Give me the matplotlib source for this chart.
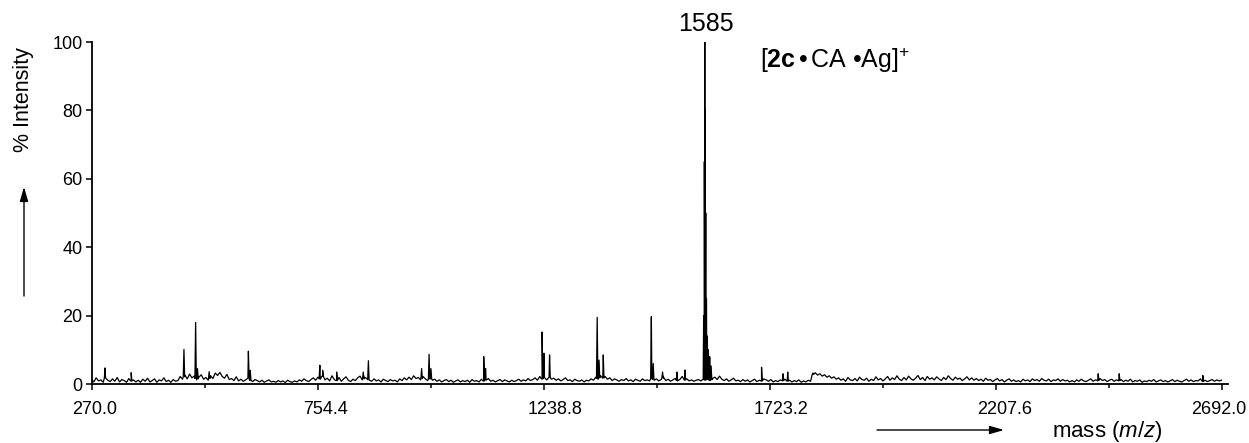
import numpy as np
import matplotlib
matplotlib.use("Agg")
from matplotlib import pyplot as plt
from matplotlib import transforms

plt.rcParams['font.family'] = ['Liberation Sans', 'DejaVu Sans']
plt.rcParams['mathtext.fontset'] = 'custom'
plt.rcParams['mathtext.rm'] = 'Liberation Sans'
plt.rcParams['mathtext.it'] = 'Liberation Sans:italic'
plt.rcParams['mathtext.bf'] = 'Liberation Sans:bold'

# baseline noise (% intensity), one value every 5 m/z starting at 270
baseline_start = 270
baseline_step = 5
baseline = [
    1.4, 0.6, 1.8, 0.9, 1.2, 0.5, 2.0, 1.1, 0.7, 1.5, 0.8, 1.9, 0.6, 1.3, 1.0, 0.5, 1.6, 0.9, 1.2, 0.6,
    1.1, 0.5, 1.4, 0.8, 1.7, 0.6, 1.0, 1.5, 0.5, 1.2, 0.9, 1.8, 0.7, 1.1, 0.5, 1.3, 0.8, 1.0, 2.2, 1.4,
    2.6, 1.5, 2.9, 1.8, 2.3, 1.2, 2.0, 2.7, 1.4, 1.9, 1.1, 2.4, 1.6, 3.2, 2.5, 3.4, 2.2, 1.7, 2.8, 1.3,
    1.6, 1.0, 2.1, 0.9, 1.4, 0.8, 1.2, 1.8, 1.1, 0.7, 1.3, 1.0, 0.6, 1.1, 0.5, 0.9, 1.2, 0.6, 0.8, 0.5,
    1.0, 0.6, 0.9, 0.4, 1.1, 0.7, 0.5, 0.9, 0.6, 1.2, 0.8, 1.5, 1.0, 0.7, 1.3, 1.8, 1.1, 2.0, 1.4, 2.3,
    1.2, 1.7, 0.9, 2.4, 1.3, 1.0, 1.9, 0.8, 1.5, 2.1, 1.1, 0.7, 1.4, 1.0, 1.8, 2.3, 1.2, 2.0, 1.5, 1.1,
    0.8, 1.5, 0.9, 1.2, 0.6, 1.4, 1.0, 0.7, 1.3, 0.9, 1.1, 0.6, 1.5, 1.0, 1.8, 1.2, 2.0, 1.3, 2.4, 1.6,
    1.9, 1.2, 2.2, 1.5, 1.0, 1.8, 1.1, 1.4, 0.8, 1.2, 0.6, 1.0, 1.3, 0.7, 1.1, 0.5, 0.9, 1.2, 0.6, 1.0,
    0.7, 1.1, 0.5, 1.3, 0.8, 1.0, 0.6, 1.4, 0.9, 1.2, 1.6, 0.8, 1.1, 0.6, 1.0, 1.3, 0.7, 1.2, 0.9, 0.6,
    1.1, 0.7, 1.0, 1.4, 0.8, 1.2, 0.9, 1.6, 1.0, 1.3, 1.8, 1.1, 2.2, 1.5, 1.9, 1.2, 2.0, 1.4, 1.7, 1.1,
    1.5, 0.9, 1.3, 1.8, 1.0, 1.2, 0.7, 1.4, 1.0, 0.8, 1.2, 0.6, 1.1, 0.9, 1.5, 1.1, 2.0, 1.4, 2.4, 1.7,
    2.2, 1.4, 1.8, 1.0, 1.5, 1.2, 0.8, 1.3, 1.0, 1.6, 0.9, 1.2, 0.7, 1.4, 1.1, 0.8, 1.5, 1.0, 1.2, 0.9,
    1.7, 1.1, 1.5, 0.9, 1.3, 2.0, 1.0, 1.4, 0.8, 1.2, 1.6, 0.9, 1.3, 2.2, 1.1, 1.5, 0.9, 1.2, 0.8, 1.1,
    1.3, 0.9, 1.4, 1.2, 1.5, 1.0, 1.6, 2.0, 1.3, 2.3, 1.4, 1.0, 1.5, 0.8, 1.2, 1.7, 0.9, 1.1, 0.7, 1.3,
    0.8, 1.2, 0.6, 1.0, 1.4, 0.7, 1.1, 0.9, 1.5, 1.2, 0.8, 1.3, 0.6, 1.0, 0.7, 1.2, 0.9, 1.4, 0.8, 1.1,
    0.6, 1.0, 0.7, 1.2, 0.5, 0.9, 0.6, 1.1, 0.8, 2.8, 3.3, 2.6, 3.0, 2.3, 2.7, 2.0, 2.4, 1.7, 2.1, 1.4,
    1.8, 1.1, 1.5, 0.8, 1.9, 1.2, 1.0, 1.6, 0.9, 2.0, 1.3, 1.1, 1.7, 0.8, 1.4, 1.0, 2.1, 1.2, 1.6, 0.9,
    1.5, 2.2, 1.1, 1.8, 1.3, 2.4, 1.4, 1.0, 1.9, 1.2, 2.3, 1.5, 1.1, 1.7, 2.5, 1.3, 1.9, 1.0, 2.2, 1.4,
    1.8, 1.2, 2.1, 1.5, 1.0, 1.9, 1.3, 2.4, 1.6, 1.1, 2.0, 1.4, 1.7, 1.0, 1.5, 2.1, 1.2, 1.8, 1.1, 1.6,
    1.0, 1.4, 0.8, 1.7, 1.1, 1.3, 0.7, 1.2, 1.6, 0.9, 1.3, 0.6, 1.1, 1.5, 0.8, 1.2, 0.7, 1.0, 0.6, 1.4,
    0.9, 1.2, 0.7, 1.5, 1.0, 1.3, 0.8, 1.6, 1.1, 0.9, 1.4, 0.7, 1.2, 1.0, 1.5, 0.8, 1.3, 0.9, 1.1, 0.6,
    1.0, 0.6, 1.2, 0.8, 1.4, 0.9, 0.7, 1.1, 1.5, 0.8, 1.2, 0.9, 1.6, 1.0, 1.3, 0.7, 1.1, 1.4, 0.8, 1.2,
    0.9, 1.3, 0.7, 1.1, 0.8, 1.4, 0.6, 1.0, 0.8, 1.2, 0.5, 0.9, 0.7, 1.1, 0.8, 1.3, 0.6, 0.9, 1.2, 0.7,
    1.0, 0.6, 0.9, 1.3, 0.7, 1.1, 0.8, 0.6, 1.0, 1.4, 0.8, 1.2, 0.7, 1.0, 0.9, 1.5, 0.8, 1.1, 0.7, 1.0,
    1.3, 0.8, 1.2, 0.9, 1.1,
]

# peaks: m/z and % intensity
peak_mz = [299, 355, 468, 493, 497, 522, 606, 610, 759, 765, 795, 852, 863, 977,
           993, 997, 1110, 1114, 1235, 1239, 1251, 1353, 1357, 1366, 1469, 1473,
           1493, 1524, 1541,
           1581, 1582.5, 1583.5, 1584.5, 1585.5, 1587, 1589, 1591, 1594, 1597,
           1705, 1751, 1761, 1815, 2426, 2471, 2650]
peak_int = [4.7, 3.3, 10.1, 18.0, 4.5, 3.6, 9.6, 4.0, 5.5, 4.0, 3.5, 3.5, 6.8, 4.5,
            8.7, 4.5, 8.0, 4.5, 15.2, 9.0, 8.5, 19.5, 7.0, 8.5, 19.7, 6.0,
            3.5, 3.5, 4.1,
            20.0, 65.0, 100.0, 80.0, 50.0, 25.0, 14.0, 10.0, 8.0, 5.3,
            4.9, 3.0, 3.5, 3.2, 3.0, 3.0, 2.5]

base_label = "1585"
peak_label = '[$\\mathbf{2c}\\,$\u2022$\\,$CA \u2022Ag]$^{+}$'
x_ticks = [270.0, 754.4, 1238.8, 1723.2, 2207.6, 2692.0]
y_ticks = [0, 20, 40, 60, 80, 100]
# small horizontal shifts (pixels) of the x tick labels, as in the original
x_label_shift = [3.5, 8, 11, 11, 8, -4]

# build the trace: baseline samples plus a narrow triangle for each peak
base_mz = baseline_start + baseline_step * np.arange(len(baseline))
mz = list(base_mz)
inten = list(baseline)
for m, h in zip(peak_mz, peak_int):
    b = float(np.interp(m, base_mz, baseline))
    mz += [m - 1.5, m, m + 1.5]
    inten += [b, h, b]
order = np.argsort(mz, kind='stable')
mz = np.array(mz)[order]
inten = np.array(inten)[order]

fig = plt.figure(figsize=(12.49, 4.43), dpi=100)
ax = fig.add_axes([0.07326, 0.13318, 0.90993, 0.77201])
ax.plot(mz, inten, color='black', lw=0.9)

ax.set_xlim(270, 2704)
ax.set_ylim(0, 100)
ax.set_xticks(x_ticks)
ax.set_xticklabels(['%.1f' % t for t in x_ticks])
ax.set_xticks([(a + b) / 2 for a, b in zip(x_ticks[:-1], x_ticks[1:])], minor=True)
ax.set_yticks(y_ticks)
ax.tick_params(axis='x', which='major', direction='out', length=4, width=1.1, labelsize=13, pad=8)
ax.tick_params(axis='x', which='minor', direction='out', length=3, width=1.1)
ax.tick_params(axis='y', direction='out', length=4.5, width=1.1, labelsize=13, pad=2)
for lab, dx in zip(ax.get_xticklabels(), x_label_shift):
    lab.set_transform(lab.get_transform() + transforms.ScaledTranslation(dx / 100, 0, fig.dpi_scale_trans))
for s in ['top', 'right']:
    ax.spines[s].set_visible(False)
for s in ['left', 'bottom']:
    ax.spines[s].set_linewidth(1.3)

ax.text(1585.5, 103.2, base_label, ha='center', va='baseline', fontsize=18, clip_on=False)
ax.text(1701, 92.4, peak_label, ha='left', va='baseline', fontsize=18)

# axis labels with arrows, like the original figure
fig.text(24 / 1249, 1 - 100 / 443, '% Intensity', rotation=90, ha='center', va='center', fontsize=15.5)
fig.text(1052 / 1249, 1 - 432 / 443, 'mass ($m/z$)', ha='left', va='center', fontsize=16)
arrow = dict(arrowstyle='-|>,head_length=0.86,head_width=0.25', mutation_scale=10,
             color='black', lw=1.0, shrinkA=0, shrinkB=0)
ax.annotate('', xy=(24, 443 - 187), xytext=(24, 443 - 296),
            xycoords='figure pixels', textcoords='figure pixels', arrowprops=arrow)
ax.annotate('', xy=(1004, 443 - 430), xytext=(877, 443 - 430),
            xycoords='figure pixels', textcoords='figure pixels', arrowprops=arrow)

fig.savefig('out.png', dpi=100)
